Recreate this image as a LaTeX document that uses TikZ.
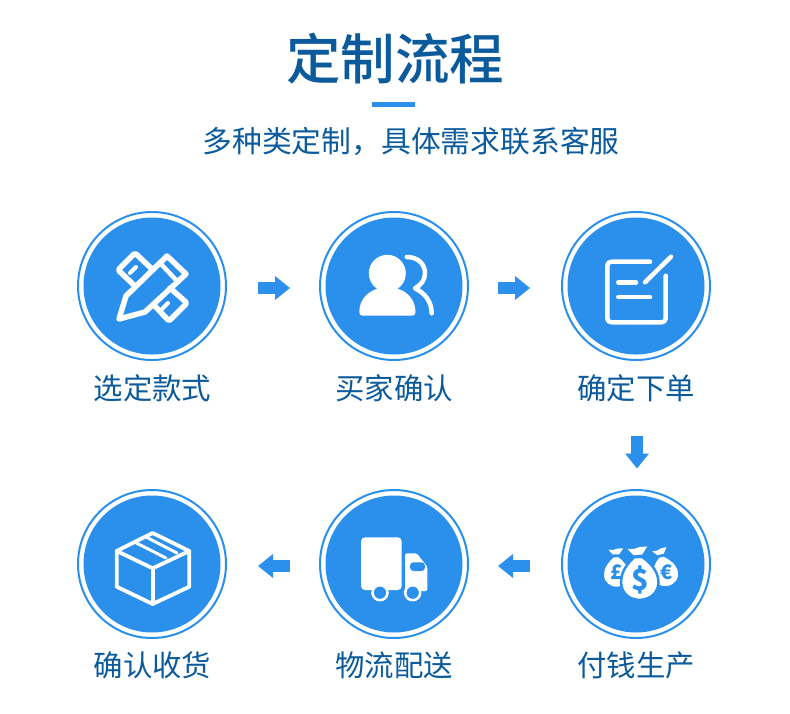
\documentclass[tikz,border=0pt]{standalone}
\usepackage{fontspec}
\setmainfont{Noto Sans CJK SC}
\newfontfamily\titlefont[UprightFont=* Medium]{Noto Sans CJK SC}
\usetikzlibrary{arrows.meta}
\definecolor{flowblue}{HTML}{2B90EC}
\definecolor{textblue}{HTML}{0B5A9C}
\tikzset{
    ringnode/.style={circle, draw=flowblue, line width=2pt, fill=white, minimum size=148pt, inner sep=0pt},
    discnode/.style={circle, fill=flowblue, minimum size=137pt, inner sep=0pt},
    steplabel/.style={text=textblue, font=\fontsize{29.4}{32}\selectfont},
    flowarrow/.style={draw=flowblue, line width=12pt, -{Triangle[length=15pt,width=23pt]}},
    iconline/.style={draw=white, line width=5.5pt, line cap=round, line join=round},
    moneybag/.pic={
        \filldraw[fill=white, draw=flowblue, line width=2.5pt, line join=round]
            (-3.5,0) .. controls (-10,5) and (-17,13) .. (-17,23)
            .. controls (-17,33) and (-9,39) .. (0,39)
            .. controls (9,39) and (17,33) .. (17,23)
            .. controls (17,13) and (10,5) .. (3.5,0) -- cycle;
        \fill[white] (-4,-2) -- (-9,-8) -- (-3,-7.5) -- (2,-9) -- (9,-9) -- (4,-2) -- cycle;
    }
}
\begin{document}
\begin{tikzpicture}[x=1pt,y=-1pt]
        \useasboundingbox (0,0) rectangle (790,713);
        % Heading
            \node[text=textblue, font=\fontsize{54.5}{60}\selectfont\titlefont] (title) at (395,59) {定制流程};
            \fill[flowblue] (372,102) rectangle (415,107);
            \node[text=textblue, font=\fontsize{29.8}{34}\selectfont] (subtitle) at (411,141) {多种类定制，具体需求联系客服};
        % Circles of the upper row
            \node[ringnode] (xuan) at (152,286) {};
            \node[ringnode] (mai) at (394,286) {};
            \node[ringnode] (queding) at (636,286) {};
            \node[discnode] at (xuan) {};
            \node[discnode] at (mai) {};
            \node[discnode] at (queding) {};
        % Circles of the lower row
            \node[ringnode] (fu) at (636,564) {};
            \node[ringnode] (wuliu) at (394,564) {};
            \node[ringnode] (shouhuo) at (152,564) {};
            \node[discnode] at (fu) {};
            \node[discnode] at (wuliu) {};
            \node[discnode] at (shouhuo) {};
        % Labels
            \node[steplabel] (xuanlabel) at (152.5,388) {选定款式};
            \node[steplabel] (mailabel) at (394,388) {买家确认};
            \node[steplabel] (quedinglabel) at (636,388) {确定下单};
            \node[steplabel] (fulabel) at (636,665) {付钱生产};
            \node[steplabel] (wuliulabel) at (394,665) {物流配送};
            \node[steplabel] (shouhuolabel) at (152.5,665) {确认收货};
        % Arrows
            \draw[flowarrow, transform canvas={yshift=-2pt}, shorten <=31pt, shorten >=29pt] (xuan) -- (mai);
            \draw[flowarrow, transform canvas={yshift=-2pt}, shorten <=29pt, shorten >=31pt] (mai) -- (queding);
            \draw[flowarrow, transform canvas={xshift=1pt}, shorten <=74.5pt, shorten >=20.5pt] (queding) -- (fu);
            \draw[flowarrow, transform canvas={yshift=-2pt}, shorten <=31pt, shorten >=29pt] (fu) -- (wuliu);
            \draw[flowarrow, transform canvas={yshift=-2pt}, shorten <=29pt, shorten >=31pt] (wuliu) -- (shouhuo);
        % Pencil and ruler
            \begin{scope}[shift={(xuan)}]
                \draw[iconline] (-33,33) -- (-26,10) -- (15,-30) -- (34,-12) -- (-7,26) -- cycle;
                \draw[iconline, line width=4.5pt] (8,-23) -- (26,-4);
                \draw[iconline, rounded corners=2pt] (0,-17) -- (-17,-33) -- (-34,-16) -- (-17,0);
                \draw[iconline, line width=4pt] (-22,-13) -- (-16,-19);
                \draw[iconline, rounded corners=2pt] (18,2) -- (35,17) -- (17,35) -- (2,19);
                \draw[iconline, line width=4pt] (16,17) -- (10,23);
            \end{scope}
        % Two people
            \begin{scope}[shift={(mai)}]
                \fill[white] (-6.7,-12.7) circle (18.5);
                \fill[white] (-34.7,26) .. controls (-34.7,12) and (-24,4) .. (-14,2) -- (1,2)
                    .. controls (11,4) and (21.5,12) .. (21.5,26)
                    .. controls (21.5,28) and (20.5,29.5) .. (18.5,29.5) -- (-32,29.5)
                    .. controls (-33.7,29.5) and (-34.7,28) .. (-34.7,26) -- cycle;
                \draw[iconline, line width=4.5pt] (12.7,-29) .. controls (24,-29) and (31,-22) .. (31,-12.7)
                    .. controls (31,-6) and (27,-1) .. (21,2.3)
                    .. controls (31,7) and (37.7,16) .. (37.7,27.3);
            \end{scope}
        % Note and pen
            \begin{scope}[shift={(queding)}]
                \draw[iconline, line width=4.5pt, rounded corners=4pt] (14,-24.3) -- (-28.7,-24.3) -- (-28.7,36.3) -- (29.7,36.3) -- (29.7,-10.3);
                \draw[iconline, line width=4.5pt] (9,-3.7) -- (35,-29.3);
                \draw[iconline, line width=4.5pt] (-17.7,-3.7) -- (0,-3.7);
                \draw[iconline, line width=4.5pt] (-17.7,11) -- (14,11);
            \end{scope}
        % Money bags
            \begin{scope}[shift={(fu)}]
                \pic[scale=0.82, rotate=2] at (-20,-8) {moneybag};
                \pic[scale=0.82, rotate=14] at (25,-8) {moneybag};
                \node[text=flowblue, font=\fontsize{20}{20}\selectfont\bfseries] (pound) at (-19,8) {£};
                \node[text=flowblue, font=\fontsize{20}{20}\selectfont\bfseries] (euro) at (31,8) {€};
                \pic[scale=1.1, rotate=4] at (2,-7) {moneybag};
                \node[text=flowblue, font=\fontsize{29}{29}\selectfont\bfseries] (dollar) at (4,16) {\$};
            \end{scope}
        % Truck
            \begin{scope}[shift={(wuliu)}]
                \fill[white, rounded corners=4pt] (-33,-26.7) rectangle (7.7,26);
                \fill[white, rounded corners=1.5pt] (11,-10.7) -- (22.7,-10.7) -- (33.3,2.7) -- (33.3,27) -- (11,27) -- cycle;
                \fill[flowblue, rounded corners=3.5pt] (16,-1.7) rectangle (31,7);
                \filldraw[fill=flowblue, draw=white, line width=2.5pt] (-14,28.7) circle (7.5);
                \filldraw[fill=flowblue, draw=white, line width=2.5pt] (18.7,28.7) circle (7.5);
            \end{scope}
        % Parcel
            \begin{scope}[shift={(shouhuo)}]
                \draw[iconline, line width=3.8pt] (0.7,-31) -- (37.3,-13) -- (37.3,22.7) -- (0.7,40) -- (-35.3,22.7) -- (-35.3,-13) -- cycle;
                \draw[iconline, line width=3.8pt] (-35.3,-13) -- (0.7,4.3) -- (37.3,-13);
                \draw[iconline, line width=3.8pt] (0.7,4.3) -- (0.7,40);
                \draw[iconline, line width=3pt] (-17,-21.7) -- (14,-6);
                \draw[iconline, line width=3pt] (-6,-27) -- (25,-11);
            \end{scope}
\end{tikzpicture}
\end{document}
